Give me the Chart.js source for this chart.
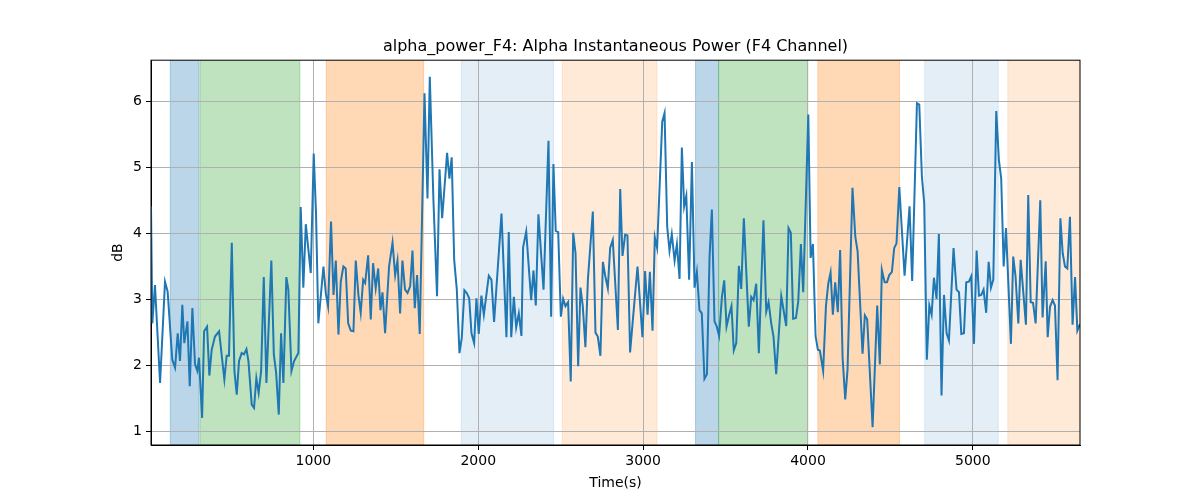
<!DOCTYPE html>
<html>
<head>
<meta charset="utf-8">
<script src="https://cdn.jsdelivr.net/npm/chart.js@4/dist/chart.umd.min.js"></script>
<style>
  html, body { margin: 0; padding: 0; background: #fff; }
</style>
</head>
<body>
<canvas id="myChart" width="1200" height="500"></canvas>
<script>
// time stamps (s) and alpha power (dB)
const times = [
  15,23,39,70,100,116,144,161,177,191,205,217,236,250,266,282,296,306,325,337,
  355,369,383,403,428,460,474,488,505,521,535,549,565,579,594,606,626,640,654,668,
  683,699,715,745,760,774,790,804,818,
  836,848,867,883,909,923,939,954,984,1002,1016,1030,1061,1075,1089,1107,1122,1136,1152,1166,
  1182,1196,1211,1227,1243,1257,1273,1287,1302,1314,1332,1348,1362,1378,1393,1407,1419,1435,1459,1480,
  1496,1510,1526,1540,1556,1571,1587,1601,1615,1629,
  1645,1674,1692,1706,1728,1750,1765,1781,1811,1825,1839,1854,1870,1886,1900,1916,1930,1945,1959,1975,
  1989,2003,2019,2034,2064,2080,2096,2141,2171,2185,2200,2216,2230,2246,2262,2272,2291,2321,2335,2349,
  2365,2396,2426,2442,
  2456,2470,2485,2501,2515,2529,2545,2561,2576,2590,2606,2620,2634,2650,2665,2695,2711,2725,2741,2756,
  2770,2786,2800,2816,2847,2861,2875,2891,2905,2921,2936,2966,2996,3012,3027,3041,3057,3071,3085,3116,
  3130,3146,3160,3174,3191,3205,3221,3235,3249,
  3262,3279,3296,3312,3326,3342,3356,3372,3387,3403,3417,3433,3447,3461,3478,3492,3506,3522,3536,3550,
  3565,3581,3595,3611,3641,3656,3670,3686,3702,3730,3747,3761,3777,3791,3807,3838,3868,3882,3896,3910,
  3927,3941,3957,3971,4002,4016,4030,4046,4060,4072,
  4092,4109,4123,4137,4151,4165,4181,4195,4210,4226,4240,4270,4287,4301,4331,4345,4359,4392,4420,4436,
  4448,4465,4479,4493,4509,4523,4537,4554,4586,4616,4632,4661,4675,4691,4705,4721,4736,4750,4764,4780,
  4794,4810,4825,4841,4855,4883,
  4901,4916,4930,4946,4960,4976,4990,5007,5023,5037,5051,5065,5081,5096,5110,5124,5142,5158,5172,5187,
  5201,5231,5245,5259,5276,5290,5322,5336,5351,5365,5381,5409,5423,5442,5454,5468,5484,5498,5514,5531,
  5545,5559,5573,5589,5605,5620,5634,5650
]
const power = [
  4.41,2.64,3.22,1.74,3.27,3.12,2.09,1.97,2.49,2.07,2.92,2.34,2.67,1.69,2.87,2.02,1.92,2.12,1.21,2.52,
  2.59,1.85,2.24,2.44,2.52,1.79,2.15,2.15,3.86,1.92,1.56,2.07,2.19,2.17,2.25,2.07,1.41,1.36,1.81,1.59,
  1.92,3.34,1.74,3.59,2.17,1.89,1.26,2.49,1.74,
  3.34,3.15,1.92,2.07,2.19,4.40,3.18,4.14,3.40,5.21,4.30,2.64,3.50,3.10,2.90,4.18,3.07,3.59,2.47,3.27,
  3.50,3.47,2.64,2.53,2.52,3.59,3.07,2.80,3.30,3.25,3.67,2.70,3.55,3.17,3.47,2.84,3.11,2.49,3.50,3.86,
  3.37,3.59,2.79,3.59,3.15,3.10,3.20,3.74,2.87,3.37,
  2.48,6.12,4.53,6.37,4.51,3.05,4.97,4.23,5.22,4.83,5.15,3.60,3.15,2.19,2.42,3.14,3.10,3.02,2.49,2.34,
  3.02,2.48,3.06,2.77,3.36,3.30,2.66,4.30,2.43,4.02,2.43,3.04,2.58,2.79,2.45,3.79,4.03,2.99,3.44,2.91,
  4.29,3.15,5.40,2.74,
  5.05,4.04,4.02,2.74,3.01,2.90,2.96,1.76,4.01,3.70,1.99,3.18,2.90,2.28,3.30,4.33,2.50,2.44,2.15,3.57,
  3.36,3.17,3.78,3.90,2.54,4.67,3.66,3.98,3.97,2.20,2.64,3.50,2.43,3.43,2.77,3.42,2.53,3.94,3.78,5.69,
  5.82,4.10,3.74,3.99,3.59,3.84,3.31,5.30,4.41,
  4.57,3.30,5.08,3.18,3.42,2.84,2.79,1.80,1.87,3.65,4.36,2.67,2.59,2.45,3.04,3.29,2.59,2.77,2.90,2.23,
  2.34,3.51,3.16,4.23,2.59,3.04,2.99,3.24,2.19,4.20,2.82,2.96,2.64,2.44,1.87,3.05,2.60,4.08,4.01,2.71,
  2.72,2.97,3.84,3.11,5.80,3.63,3.84,2.45,2.24,2.23,
  1.92,2.90,3.24,3.41,2.77,3.26,2.81,3.75,2.12,1.49,1.94,4.69,3.95,3.73,2.18,2.76,2.70,1.07,2.91,2.02,
  3.45,3.26,3.26,3.37,3.42,3.78,3.85,4.70,3.36,4.41,3.28,5.97,5.95,4.86,4.46,2.09,2.91,2.77,3.33,3.01,
  3.99,1.55,3.07,2.49,2.38,3.78,
  3.15,3.11,2.48,2.49,3.26,3.27,3.35,2.33,3.74,3.06,3.07,3.15,2.80,3.57,3.18,3.30,5.85,5.11,4.83,3.50,
  4.08,2.33,3.65,3.35,2.64,3.60,2.62,4.58,2.96,2.95,2.64,4.50,2.73,3.58,2.43,2.89,2.99,2.91,1.78,4.23,
  3.70,3.50,3.47,4.25,2.62,3.34,2.53,2.63
]

const xTicks = [1000, 2000, 3000, 4000, 5000]
const yTicks = [1, 2, 3, 4, 5, 6]

// shaded phases
const spanStart = [132, 312, 1078, 1897, 2510, 3318, 3458, 4060, 4708, 5212]
const spanEnd   = [306, 918, 1669, 2457, 3084, 3458, 3999, 4555, 5154, 5650]
const spanKind  = ['blue','green','orange','paleblue','paleorange','blue','green','orange','paleblue','paleorange']

const spanFill = {
  blue: 'rgba(31,119,180,0.3)',
  green: 'rgba(44,160,44,0.3)',
  orange: 'rgba(255,127,14,0.3)',
  paleblue: 'rgba(31,119,180,0.12)',
  paleorange: 'rgba(255,127,14,0.16)'
}

const spans = {
  id: 'spans',
  afterLayout(chart) {
    // centre the title over the plot area, like matplotlib
    const t = chart.titleBlock
    if (t) {
      t.left = chart.chartArea.left
      t.right = chart.chartArea.right
      t.width = t.right - t.left
    }
  },
  beforeDraw(chart) {
    const {ctx, chartArea: a, scales: {x}} = chart
    ctx.save()
    ctx.beginPath()
    ctx.rect(a.left, a.top, a.right - a.left, a.bottom - a.top)
    ctx.clip()
    spanStart.forEach((s, i) => {
      const x0 = x.getPixelForValue(s)
      const x1 = x.getPixelForValue(spanEnd[i])
      ctx.fillStyle = spanFill[spanKind[i]]
      ctx.fillRect(x0, a.top, x1 - x0, a.bottom - a.top)
      ctx.strokeStyle = spanFill[spanKind[i]]
      ctx.lineWidth = 1
      ctx.strokeRect(x0, a.top, x1 - x0, a.bottom - a.top)
    })
    ctx.restore()
  }
}

const frame = {
  id: 'frame',
  afterDatasetsDraw(chart) {
    const {ctx, chartArea: a} = chart
    ctx.save()
    ctx.strokeStyle = '#000'
    ctx.lineWidth = 1
    ctx.strokeRect(a.left, a.top, a.right - a.left, a.bottom - a.top)
    ctx.restore()
  }
}

const font = {family: 'DejaVu Sans', size: 14}

new Chart('myChart', {
  type: 'line',
  data: {
    datasets: [{
      data: times.map((t, i) => ({x: t, y: power[i]})),
      borderColor: '#1f77b4',
      borderWidth: 2,
      pointRadius: 0,
      tension: 0,
      fill: false
    }]
  },
  options: {
    responsive: false,
    animation: false,
    devicePixelRatio: 1,
    layout: {padding: {left: 0, right: 120, top: 0, bottom: 0}},
    plugins: {
      legend: {display: false},
      tooltip: {enabled: false},
      title: {
        display: true,
        text: 'alpha_power_F4: Alpha Instantaneous Power (F4 Channel)',
        color: '#000',
        font: {family: 'DejaVu Sans', size: 16, weight: 'normal'},
        padding: {top: 37, bottom: 4}
      }
    },
    scales: {
      x: {
        type: 'linear',
        min: 15,
        max: 5650,
        afterBuildTicks: s => { s.ticks = xTicks.map(v => ({value: v})) },
        afterFit: s => { s.height = 55 },
        ticks: {color: '#000', font, maxRotation: 0, padding: 3, callback: v => String(v)},
        grid: {color: '#b0b0b0', lineWidth: 1, tickColor: '#000', tickLength: 5},
        border: {display: true, color: '#000'},
        title: {display: true, text: 'Time(s)', color: '#000', font, padding: {top: 2, bottom: 8}}
      },
      y: {
        min: 0.8,
        max: 6.62,
        afterBuildTicks: s => { s.ticks = yTicks.map(v => ({value: v})) },
        afterFit: s => { s.width = 151 },
        ticks: {color: '#000', font, padding: 4, callback: v => String(v)},
        grid: {color: '#b0b0b0', lineWidth: 1, tickColor: '#000', tickLength: 5},
        border: {display: true, color: '#000'},
        title: {display: true, text: 'dB', color: '#000', font, padding: {top: 110, bottom: 0}}
      }
    }
  },
  plugins: [spans, frame]
})
</script>
</body>
</html>
